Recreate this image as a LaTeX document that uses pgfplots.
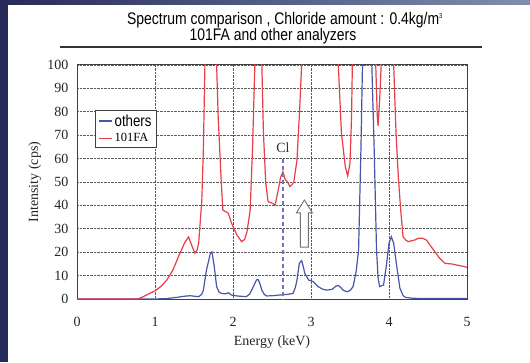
\documentclass[border=0pt]{standalone}
\usepackage{fontspec}
\setmainfont{Liberation Serif}
\setsansfont{Liberation Sans}
\newfontfamily\titlefont[FakeStretch=0.83]{Liberation Sans}
\usepackage{pgfplots}
\pgfplotsset{compat=1.18}
\definecolor{redc}{RGB}{232,62,72}
\definecolor{bluec}{RGB}{72,86,168}
\definecolor{navy}{RGB}{38,42,88}
\definecolor{slate}{RGB}{128,142,176}
\definecolor{gridc}{RGB}{90,90,90}
\begin{document}
\begin{tikzpicture}
\useasboundingbox (0,0) rectangle (530pt,362pt);
\fill[white] (0,0) rectangle (530pt,362pt);
\fill[navy] (0,0) rectangle (8pt,362pt);
\shade[left color=navy, right color=slate] (0,357pt) rectangle (530pt,362pt);
\node[anchor=base, inner sep=0pt, font=\titlefont\fontsize{16.8}{17}\selectfont] at (285pt,337pt) {Spectrum comparison , Chloride amount : 0.4kg/m\textsuperscript{\fontsize{7}{7}\selectfont 3}};
\node[anchor=base, inner sep=0pt, font=\titlefont\fontsize{16.8}{17}\selectfont] at (273pt,321pt) {101FA and other analyzers};
\draw[line width=1.3pt, black!80] (60pt,315pt) -- (482pt,315pt);
\begin{axis}[
  at={(77pt,63pt)}, anchor=south west,
  scale only axis, width=390pt, height=234pt,
  xmin=0, xmax=5, ymin=0, ymax=100,
  xtick={0,1,2,3,4,5}, ytick={0,10,...,100},
  grid=major,
  major grid style={densely dotted, gridc, line width=0.9pt},
  major tick length=0pt,
  axis line style={black!75, line width=1pt},
  tick label style={font=\rmfamily\fontsize{14}{14}\selectfont, text=black!85},
  /pgf/number format/assume math mode=true,
  xticklabel shift=15pt,
  yticklabel shift=5pt,
  xlabel={Energy (keV)},
  ylabel={Intensity (cps)},
  label style={font=\rmfamily\fontsize{14}{14}\selectfont, text=black!85},
  xlabel style={at={(axis description cs:0.5,-0.184)}, anchor=center},
  ylabel style={at={(axis description cs:-0.108,0.5)}, anchor=center, rotate=0},
  legend style={at={(axis description cs:0.046,0.808)}, anchor=north west,
    draw=black!75, line width=1pt, inner xsep=3pt, inner ysep=2pt,
    row sep=2pt, cells={anchor=west}},
  legend image code/.code={\draw[#1, line width=1.2pt] (0pt,0pt) -- (13pt,0pt);},
]
\addplot[bluec, line width=1.2pt] coordinates {
(0,0) (1.0,0) (1.15,0.2) (1.28,0.7) (1.38,1.2) (1.45,1.4) (1.5,1.2) (1.56,1) (1.6,2) (1.62,3.8) (1.66,12.4) (1.71,19.5) (1.73,20.2) (1.76,13.8) (1.79,5.3) (1.82,3) (1.85,2.4) (1.9,2.2) (1.94,2.7) (1.98,1.7) (2.05,1.3) (2.17,1) (2.21,2) (2.24,3.8) (2.3,8.1) (2.32,8.4) (2.34,7) (2.37,3.8) (2.4,2) (2.43,1.3) (2.5,1.4) (2.6,1.7) (2.7,2) (2.77,2.4) (2.8,5) (2.82,8.1) (2.85,15.2) (2.88,16.4) (2.9,14) (2.92,11) (2.97,8.1) (3.03,7.4) (3.09,5.3) (3.15,4.2) (3.2,3.8) (3.27,4.1) (3.32,5.5) (3.35,5.8) (3.38,5) (3.41,3.8) (3.46,3.1) (3.5,3.6) (3.54,5.3) (3.58,12) (3.61,21) (3.64,64) (3.66,100) (3.68,140) (3.72,160) (3.76,140) (3.78,100) (3.81,64) (3.84,21) (3.86,9) (3.88,5.3) (3.93,6) (3.97,15.2) (4.0,23.8) (4.03,26.6) (4.06,23.8) (4.1,13.8) (4.14,4.6) (4.18,1.5) (4.21,0.7) (4.31,0.3) (4.5,0.2) (5,0.2)
};
\addlegendentry{\titlefont\fontsize{16}{16}\selectfont others}
\addplot[redc, line width=1.2pt] coordinates {
(0,0) (0.78,0) (0.85,1) (0.92,2.2) (1.0,3.5) (1.08,5.5) (1.15,8) (1.23,12.4) (1.32,19.6) (1.38,24) (1.43,26.5) (1.47,23) (1.51,19.6) (1.54,21) (1.56,24) (1.6,42) (1.62,64) (1.64,100) (1.66,130) (1.72,160) (1.77,130) (1.79,100) (1.81,78) (1.85,49.5) (1.87,38) (1.94,36.7) (1.98,32.5) (2.05,27.4) (2.11,24.5) (2.15,25.5) (2.18,28.8) (2.22,38) (2.25,63.7) (2.28,100) (2.30,130) (2.33,140) (2.35,130) (2.37,100) (2.39,71) (2.42,49.5) (2.45,41.6) (2.5,41) (2.54,40.2) (2.58,46.6) (2.61,52) (2.64,54.4) (2.67,51) (2.7,50) (2.73,48) (2.76,49) (2.78,50) (2.82,59.4) (2.85,78) (2.88,100) (2.92,130) (3.1,150) (3.31,130) (3.35,100) (3.39,71) (3.44,56.5) (3.47,52.6) (3.5,58) (3.52,78) (3.53,100) (3.56,130) (3.7,150) (3.8,130) (3.83,100) (3.85,78) (3.86,74) (3.88,85) (3.9,100) (3.92,130) (3.98,150) (4.04,130) (4.06,100) (4.09,71) (4.12,52) (4.15,38) (4.18,26.6) (4.22,25) (4.25,24.5) (4.3,25) (4.33,25.2) (4.38,26) (4.43,26) (4.48,25.2) (4.57,21) (4.65,17.4) (4.72,15.2) (4.8,15) (4.87,14.5) (4.95,14) (5.0,13.5)
};
\addlegendentry{\rmfamily\fontsize{12.5}{12.5}\selectfont 101FA}
\draw[bluec!80, line width=1.3pt, dash pattern=on 4pt off 3pt] (axis cs:2.64,60) -- (axis cs:2.64,0);
\node[font=\rmfamily\fontsize{14}{14}\selectfont, text=black!80] at (axis cs:2.64,64.5) {Cl};
\draw[black!55, fill=white, line width=0.9pt] (axis cs:2.864,22.2) -- (axis cs:2.966,22.2) -- (axis cs:2.966,36.8) -- (axis cs:3.018,36.8) -- (axis cs:2.915,42.3) -- (axis cs:2.812,36.8) -- (axis cs:2.864,36.8) -- cycle;
\end{axis}
\end{tikzpicture}
\end{document}
